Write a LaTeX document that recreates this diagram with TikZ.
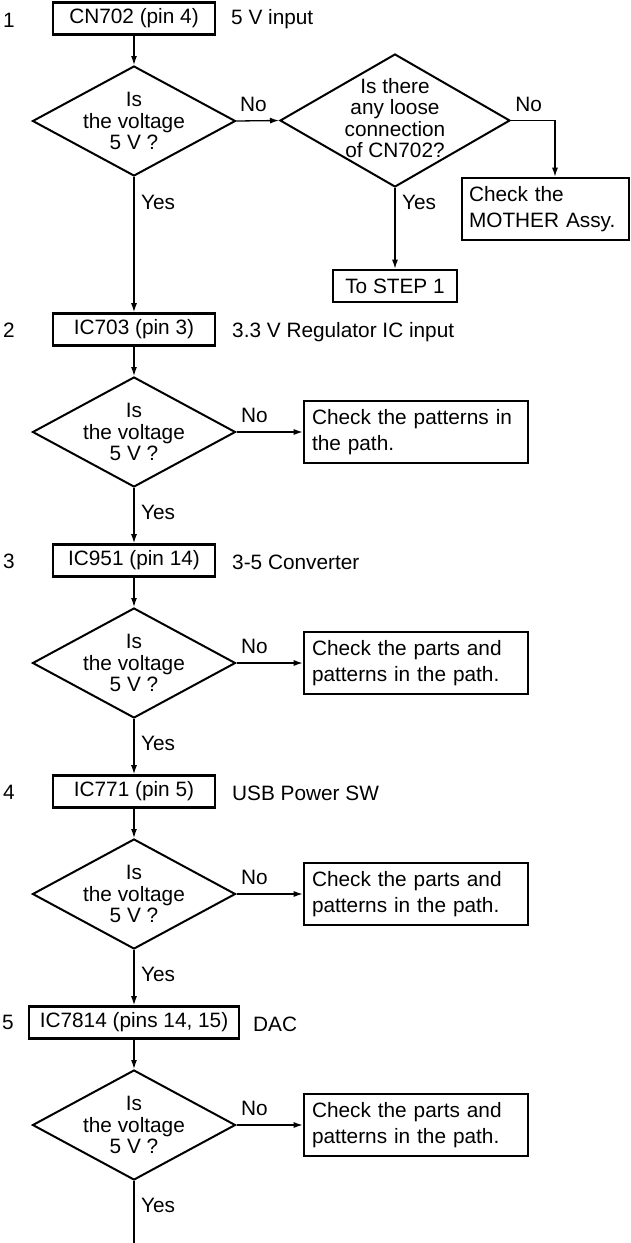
\documentclass[tikz,border=0pt]{standalone}
\usepackage{fontspec}
\setmainfont{Liberation Sans}
\usetikzlibrary{shapes.geometric,arrows.meta}
\begin{document}
\begin{tikzpicture}[x=1pt,y=-1pt,
  font=\fontsize{20.8}{21.5}\selectfont,
  stepbox/.style={draw,line width=2.6pt,minimum width=162pt,minimum height=32pt,inner sep=0pt},
  dia/.style={draw,diamond,line width=2pt,minimum width=203pt,minimum height=110pt,inner sep=0pt},
  dtext/.style={align=center,inner sep=0pt},
  chk/.style={draw,line width=2.6pt,text width=208pt,inner xsep=8pt,inner ysep=0pt,minimum height=62pt,align=left,font=\fontsize{20.8}{25.5}\selectfont},
  conn/.style={line width=1.3pt,-{Latex[length=9pt,width=6pt]}},
  plain/.style={line width=1.3pt},
  lab/.style={inner sep=0pt,anchor=west},
  num/.style={inner sep=0pt},
  nolab/.style={inner sep=0pt,above=8.5pt},
]
\useasboundingbox (0,0) rectangle (631,1243);

% ---------- Step 1 ----------
\node[num] (n1) at (9,20) {1};
\node[stepbox] (b1) at (134,18.5) {CN702 (pin 4)};
\node[lab] (l1) at (231,19) {5 V input};
\node[dia] (d1) at (134,121) {};
\node[dtext] (t1) at (d1) {Is\\the voltage\\5 V ?};
\node[dia,minimum width=230pt,minimum height=133pt] (q1) at (395,120.5) {};
\node[dtext] (tq1) at (395,118) {Is there\\any loose\\connection\\of CN702?};
\node[chk,text width=153pt,inner xsep=7pt] (m1) at (545.5,209) {Check the\\MOTHER Assy.};
\node[stepbox,minimum width=124pt] (s1) at (395,286) {To STEP 1};
\node[lab] (y1) at (141,202) {Yes};
\node[lab] (yq1) at (402,202) {Yes};

\draw[conn] (b1.south) -- (d1.north);
\draw[conn] (d1.east) -- node[nolab,pos=0.4] (no1) {No} (q1.west);
\draw[conn] (q1.east) -| node[nolab,pos=0.2] (noq1) {No} ([xshift=9.5pt]m1.north);
\draw[conn] (q1.south) -- (s1.north);

% ---------- Step 2 ----------
\node[num] (n2) at (9,330) {2};
\node[stepbox] (b2) at (134,329.5) {IC703 (pin 3)};
\node[lab] (l2) at (232,332) {3.3 V Regulator IC input};
\node[dia] (d2) at (134,432) {};
\node[dtext] (t2) at (d2) {Is\\the voltage\\5 V ?};
\node[chk] (c2) at (416,432) {Check the patterns in\\the path.};
\node[lab] (y2) at (141,512) {Yes};

\draw[conn] (d1.south) -- (b2.north);
\draw[conn] (b2.south) -- (d2.north);
\draw[conn] (d2.east) -- node[nolab,pos=0.27] (no2) {No} (c2.west);

% ---------- Step 3 ----------
\node[num] (n3) at (9,561) {3};
\node[stepbox] (b3) at (134,560.5) {IC951 (pin 14)};
\node[lab] (l3) at (232,562) {3-5 Converter};
\node[dia] (d3) at (134,663) {};
\node[dtext] (t3) at (d3) {Is\\the voltage\\5 V ?};
\node[chk] (c3) at (416,663) {Check the parts and\\patterns in the path.};
\node[lab] (y3) at (141,743) {Yes};

\draw[conn] (d2.south) -- (b3.north);
\draw[conn] (b3.south) -- (d3.north);
\draw[conn] (d3.east) -- node[nolab,pos=0.27] (no3) {No} (c3.west);

% ---------- Step 4 ----------
\node[num] (n4) at (9,792) {4};
\node[stepbox] (b4) at (134,791.5) {IC771 (pin 5)};
\node[lab] (l4) at (232,793) {USB Power SW};
\node[dia] (d4) at (134,894) {};
\node[dtext] (t4) at (d4) {Is\\the voltage\\5 V ?};
\node[chk] (c4) at (416,894) {Check the parts and\\patterns in the path.};
\node[lab] (y4) at (141,974) {Yes};

\draw[conn] (d3.south) -- (b4.north);
\draw[conn] (b4.south) -- (d4.north);
\draw[conn] (d4.east) -- node[nolab,pos=0.27] (no4) {No} (c4.west);

% ---------- Step 5 ----------
\node[num] (n5) at (8,1022) {5};
\node[stepbox,minimum width=210pt] (b5) at (134,1022.5) {IC7814 (pins 14, 15)};
\node[lab] (l5) at (253,1024) {DAC};
\node[dia] (d5) at (134,1125) {};
\node[dtext] (t5) at (d5) {Is\\the voltage\\5 V ?};
\node[chk] (c5) at (416,1125) {Check the parts and\\patterns in the path.};
\node[lab] (y5) at (141,1205) {Yes};
\coordinate (end) at (134,1243);

\draw[conn] (d4.south) -- (b5.north);
\draw[conn] (b5.south) -- (d5.north);
\draw[conn] (d5.east) -- node[nolab,pos=0.27] (no5) {No} (c5.west);
\draw[plain] (d5.south) -- (end);
\end{tikzpicture}
\end{document}
